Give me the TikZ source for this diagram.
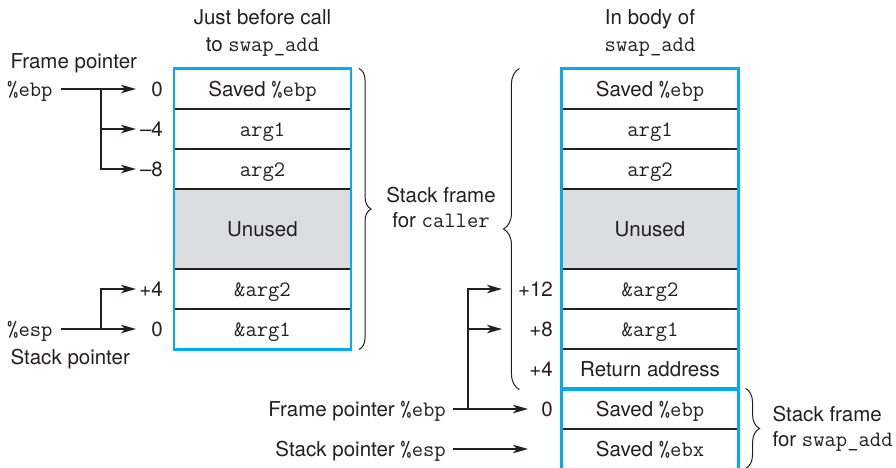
\documentclass[tikz,border=0pt]{standalone}
\usepackage{fontspec}
\setsansfont{TeX Gyre Heros}
\renewcommand{\familydefault}{\sfdefault}
\usetikzlibrary{arrows.meta,decorations.pathreplacing}
\definecolor{frameblue}{RGB}{0,172,238}
\definecolor{unusedgray}{RGB}{220,221,223}
\definecolor{ink}{RGB}{35,31,32}
\newcommand{\bigtxt}{\fontsize{20.5}{24.6}\selectfont}
\newcommand{\code}[1]{{\fontsize{22}{26}\selectfont\ttfamily #1}}
\begin{document}
\begin{tikzpicture}[x=1pt,y=-1pt,
  every node/.style={font=\bigtxt\sffamily, text=ink},
  cell/.style={draw=ink, line width=1.1pt, minimum width=176pt, minimum height=40pt,
    inner sep=0pt, text height=14.7pt, text depth=0pt},
  unusedcell/.style={cell, minimum height=80pt, fill=unusedgray},
  lbl/.style={inner sep=0pt, text height=14.7pt, text depth=0pt},
  blueframe/.style={draw=frameblue, line width=2.6pt},
  ptr/.style={draw=ink, line width=1.25pt, -{Stealth[length=15pt,width=8.5pt,inset=4pt]}},
  bracestyle/.style={draw=ink, line width=1pt, decorate}
]
\useasboundingbox (0,0) rectangle (896,468);

% ---------- titles ----------
\node[anchor=base] (tl1) at (262.5,25) {Just before call};
\node[anchor=base] (tl2) at (262.5,52) {to \code{swap\_add}};
\node[anchor=base] (tr1) at (650,25) {In body of};
\node[anchor=base] (tr2) at (650,52) {\code{swap\_add}};

% ---------- left stack ----------
\node[cell] (L1) at (262.5,89) {Saved \code{\%ebp}};
\node[cell] (L2) at (262.5,129) {\code{arg1}};
\node[cell] (L3) at (262.5,169) {\code{arg2}};
\node[unusedcell] (L4) at (262.5,229) {Unused};
\node[cell] (L5) at (262.5,289) {\code{\&arg2}};
\node[cell] (L6) at (262.5,329) {\code{\&arg1}};
\draw[blueframe] (L1.north west) rectangle (L6.south east);

% ---------- right stack ----------
\node[cell] (R1) at (650,89) {Saved \code{\%ebp}};
\node[cell] (R2) at (650,129) {\code{arg1}};
\node[cell] (R3) at (650,169) {\code{arg2}};
\node[unusedcell] (R4) at (650,229) {Unused};
\node[cell] (R5) at (650,289) {\code{\&arg2}};
\node[cell] (R6) at (650,329) {\code{\&arg1}};
\node[cell] (R7) at (650,369) {Return address};
\node[cell] (R8) at (650,409) {Saved \code{\%ebp}};
\node[cell] (R9) at (650,449) {Saved \code{\%ebx}};
\draw[blueframe] (R1.north west) rectangle (R7.south east);
\draw[blueframe] (R9.south west) -- (R8.north west) -- (R8.north east) -- (R9.south east);

% ---------- left offsets and pointers ----------
\node[lbl, anchor=east] (lo0) at (163,89) {0};
\node[lbl, anchor=east] (lom4) at (163,129) {\textendash4};
\node[lbl, anchor=east] (lom8) at (163,169) {\textendash8};
\node[lbl, anchor=east] (lop4) at (163,289) {+4};
\node[lbl, anchor=east] (lob0) at (163,329) {0};

\node[anchor=base west] (fplab) at (7,69) {Frame pointer};
\node[lbl, anchor=west] (ebp) at (7,89) {\code{\%ebp}};
\node[lbl, anchor=west] (esp) at (7,329) {\code{\%esp}};
\node[anchor=base west] (splab) at (7,364) {Stack pointer};

\coordinate (ta0) at (136,89);
\coordinate (tam4) at (136,129);
\coordinate (tam8) at (136,169);
\coordinate (tap4) at (136,289);
\coordinate (tab0) at (136,329);
\coordinate (bl1) at (101,89);
\coordinate (bl2) at (101,329);

\draw[ptr] ([xshift=8pt]ebp.east) -- (ta0);
\draw[ptr] (bl1) |- (tam4);
\draw[ptr] (bl1) |- (tam8);
\draw[ptr] ([xshift=8pt]esp.east) -- (tab0);
\draw[ptr] (bl2) |- (tap4);

% ---------- right offsets and pointers ----------
\node[lbl, anchor=east] (ro12) at (553,289) {+12};
\node[lbl, anchor=east] (ro8) at (553,329) {+8};
\node[lbl, anchor=east] (ro4) at (553,369) {+4};
\node[lbl, anchor=east] (ro0) at (553,409) {0};

\node[lbl, anchor=east] (fp) at (446,409) {Frame pointer \code{\%ebp}};
\node[lbl, anchor=east] (sp) at (446,449) {Stack pointer \code{\%esp}};

\coordinate (tr12) at (502,289);
\coordinate (tr8) at (502,329);
\coordinate (tr0) at (528,409);
\coordinate (trs) at (528,449);
\coordinate (br1) at (468,409);

\draw[ptr] ([xshift=7pt]fp.east) -- (tr0);
\draw[ptr] (br1) |- (tr12);
\draw[ptr] (br1) |- (tr8);
\draw[ptr] ([xshift=7pt]sp.east) -- (trs);

% ---------- braces ----------
\draw[bracestyle, decoration={brace, amplitude=12pt}]
  ([xshift=8pt]L1.north east) -- ([xshift=8pt]L6.south east);
\draw[bracestyle, decoration={brace, amplitude=16pt}]
  ([xshift=-42pt]R7.south west) -- ([xshift=-42pt]R1.north west);
\draw[bracestyle, decoration={brace, amplitude=14pt}]
  ([xshift=7pt]R8.north east) -- ([xshift=7pt,yshift=1pt]R9.south east);

\node[anchor=base] (cf1) at (441,202) {Stack frame};
\node[anchor=base] (cf2) at (441,227) {for \code{caller}};
\node[anchor=base west] (sf1) at (769,421) {Stack frame};
\node[anchor=base west] (sf2) at (769,446) {for \code{swap\_add}};
\end{tikzpicture}
\end{document}
